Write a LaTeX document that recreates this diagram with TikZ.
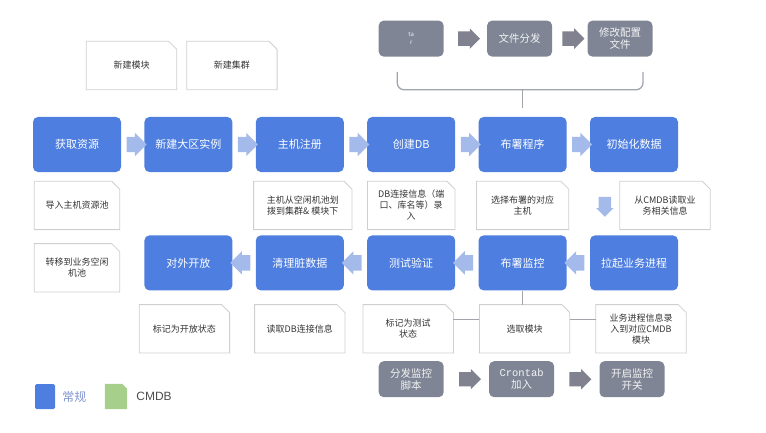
\documentclass[tikz,border=0pt]{standalone}
\usepackage{fontspec}
\setmainfont{Noto Sans CJK SC}
\setmonofont{Liberation Mono}
\newfontfamily\legendfont{Liberation Sans}
\usetikzlibrary{arrows.meta,positioning,shapes.arrows,calc}

\definecolor{procblue}{HTML}{4D7EE0}
\definecolor{flowblue}{HTML}{A4BAEA}
\definecolor{toolgray}{HTML}{7F8594}
\definecolor{flowgray}{HTML}{80838F}
\definecolor{cmdbgreen}{HTML}{A7CF8C}
\definecolor{noteline}{HTML}{CFCFD2}
\definecolor{linkgray}{HTML}{A2A4AC}
\definecolor{legendtext}{HTML}{8094CF}

\begin{document}
\begin{tikzpicture}[
  x=1pt, y=1pt,
  proc/.style={
    fill=procblue,
    rounded corners=5pt,
    minimum width=88pt,
    minimum height=55pt,
    inner sep=0pt,
    text=white,
    font=\fontsize{11}{13}\selectfont
  },
  tool/.style={
    fill=toolgray,
    rounded corners=5pt,
    minimum width=65pt,
    minimum height=36pt,
    inner sep=1pt,
    align=center,
    text=white!90!toolgray,
    font=\fontsize{10.5}{12}\selectfont
  },
  note/.style={
    minimum width=90pt,
    minimum height=48pt,
    inner sep=2pt,
    align=center,
    text=black!80,
    font=\fontsize{9}{11}\selectfont
  },
  notebd/.style={draw=noteline, line width=.8pt},
  rarr/.style={single arrow, fill=flowblue, minimum height=20pt,
    single arrow head extend=4pt, inner xsep=0pt, inner ysep=7.5pt},
  larr/.style={rarr, rotate=180},
  darr/.style={rarr, rotate=-90, inner ysep=6pt, single arrow head extend=2.5pt},
  garr/.style={rarr, fill=flowgray, minimum height=22pt, inner ysep=7pt, single arrow head extend=3pt},
  link/.style={draw=linkgray, line width=1.3pt}
]
\useasboundingbox (0,0) rectangle (766,432);

\node[proc] (res) at (77,287.5) {获取资源};
\node[proc, right=23pt of res] (inst) {新建大区实例};
\node[proc, right=23pt of inst] (reg) {主机注册};
\node[proc, right=23pt of reg] (db) {创建DB};
\node[proc, right=23pt of db] (deploy) {布署程序};
\node[proc, right=23pt of deploy] (init) {初始化数据};

\node[proc, below=63pt of inst] (open) {对外开放};
\node[proc, below=63pt of reg] (clean) {清理脏数据};
\node[proc, below=63pt of db] (test) {测试验证};
\node[proc, below=63pt of deploy] (mon) {布署监控};
\node[proc, below=63pt of init] (start) {拉起业务进程};

\foreach \a/\b [count=\i] in {res/inst,inst/reg,reg/db,db/deploy,deploy/init}
  \node[rarr] (r\i) at ($(\a.east)!.5!(\b.west)$) {};
\foreach \a/\b [count=\i] in {open/clean,clean/test,test/mon,mon/start}
  \node[larr] (l\i) at ($(\a.east)!.5!(\b.west)$) {};
\node[darr] (down) at ($(init.south west)!.5!(start.north west)+(15,0)$) {};

\node[note] (mod) at (131.5,366.5) {新建模块};
\node[note, right=10pt of mod] (clu) {新建集群};

\node[note, below=9pt of res, minimum width=85pt] (imp) {导入主机资源池};
\node[note, below=9pt of reg, xshift=3pt, minimum width=98pt] (assign) {主机从空闲机池划\\拨到集群\& 模块下};
\node[note, below=9pt of db, minimum width=87pt] (dbinfo) {DB连接信息（端\\口、库名等）录\\入};
\node[note, below=9pt of deploy, minimum width=92pt] (host) {选择布署的对应\\主机};
\node[note, below=9pt of init, xshift=31pt] (read) {从CMDB读取业\\务相关信息};
\node[note, below=14pt of imp, minimum width=85pt] (move) {转移到业务空闲\\机池};

\node[note, below=14pt of open, xshift=-4pt] (mopen) {标记为开放状态};
\node[note, below=14pt of clean] (rdb) {读取DB连接信息};
\node[note, below=14pt of test, xshift=-3pt] (mtest) {标记为测试\\状态};
\node[note, below=14pt of mon, xshift=2pt] (pick) {选取模块};
\node[note, below=14pt of start, xshift=7pt] (rec) {业务进程信息录\\入到对应CMDB\\模块};

\foreach \n in {mod,clu,imp,assign,dbinfo,host,read,move,mopen,rdb,mtest,pick,rec}
  \draw[notebd] (\n.south west) -- (\n.north west) -- ([xshift=-8pt]\n.north east)
    -- ([yshift=-8pt]\n.north east) -- (\n.south east) -- cycle;

\node[tool, above=60pt of db, font=\fontsize{6}{8}\selectfont] (tar) {ta\\r};
\node[tool, right=43pt of tar] (copy) {文件分发};
\node[tool, right=35pt of copy] (conf) {修改配置\\文件};
\node[garr] (g1) at ($(tar.east)!.5!(copy.west)$) {};
\node[garr] (g2) at ($(copy.east)!.5!(conf.west)$) {};

\node[tool, below=8pt of mtest, xshift=3pt] (dist) {分发监控\\脚本};
\node[tool, right=45pt of dist] (cron) {{\ttfamily Crontab}\\加入};
\node[tool, right=45pt of cron] (swon) {开启监控\\开关};
\node[garr] (g3) at ($(dist.east)!.5!(cron.west)$) {};
\node[garr] (g4) at ($(cron.east)!.5!(swon.west)$) {};

\coordinate (bl) at ([xshift=-14pt,yshift=-15pt]tar.south);
\coordinate (br) at ([xshift=23pt,yshift=-15pt]conf.south);
\coordinate (bm) at ($(bl)+(0,-18)$);
\draw[link, rounded corners=7pt] (bl) -- (bm) -- (br |- bm) -- (br);
\draw[link] (deploy.north |- bm) -- ([yshift=9pt]deploy.north);

\draw[link] (mon.south) -- (mon.south |- pick.north);
\draw[link] ([yshift=9pt]mtest.east) -- ([yshift=9pt]pick.west);
\draw[link] ([yshift=9pt]pick.east) -- ([yshift=9pt]rec.west);

\node[fill=procblue, rounded corners=1.5pt, minimum width=20pt, minimum height=25pt, inner sep=0pt] (kblue) at (45,35.5) {};
\node[right=7pt of kblue, inner sep=0pt, text=legendtext, font=\fontsize{12}{14}\selectfont] (tblue) {常规};
\node[minimum width=22pt, minimum height=25pt, inner sep=0pt] (kgreen) at (116,35.5) {};
\fill[cmdbgreen] (kgreen.south west) -- (kgreen.north west) -- ([xshift=-5pt]kgreen.north east)
  -- ([yshift=-5pt]kgreen.north east) -- (kgreen.south east) -- cycle;
\node[right=9pt of kgreen, inner sep=0pt, text=black!70, font=\legendfont\fontsize{12}{14}\selectfont] (tgreen) {CMDB};

\end{tikzpicture}
\end{document}
